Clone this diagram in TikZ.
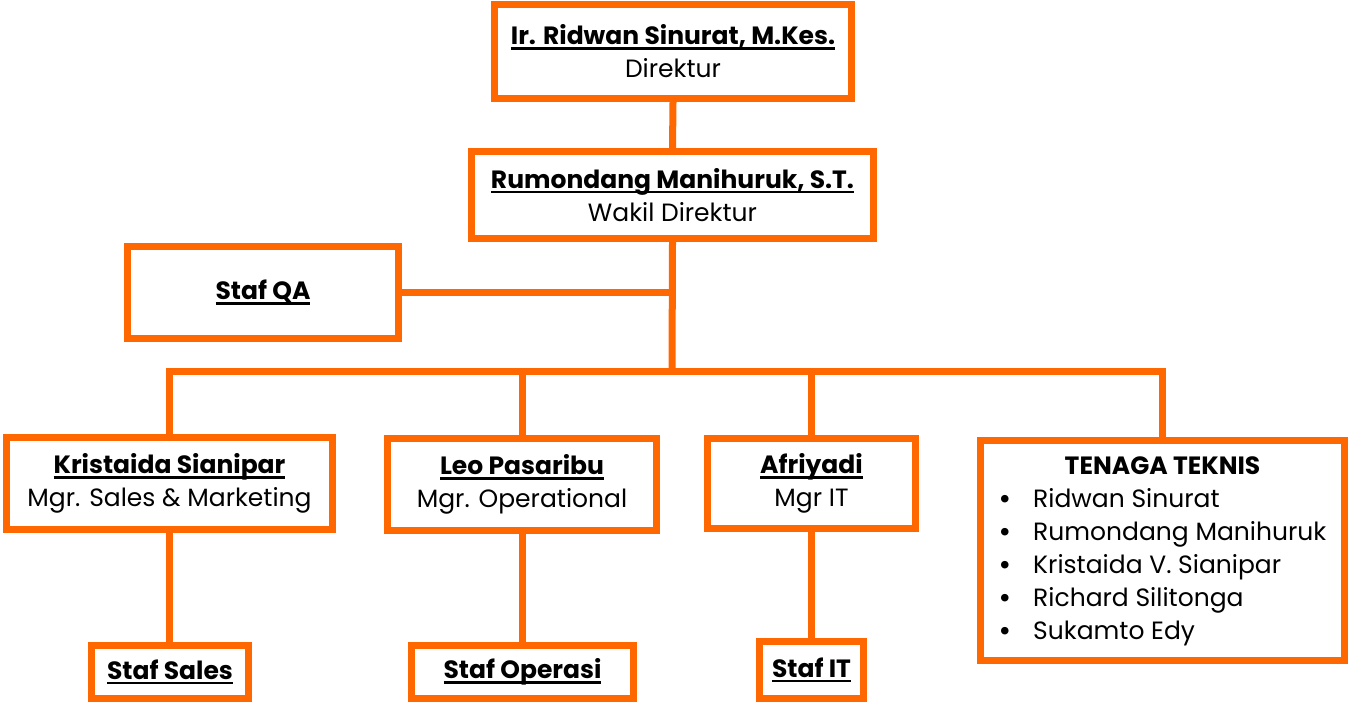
\documentclass[tikz,border=0pt]{standalone}
\usepackage{fontspec}
\setmainfont{Poppins}
\usetikzlibrary{positioning}
\definecolor{orgline}{RGB}{255,104,0}
\tikzset{
  box/.style={draw=orgline,line width=7pt,fill=white,align=center,inner sep=0pt,
    font=\fontsize{25}{33}\selectfont},
  conn/.style={draw=orgline,line width=7pt,line join=miter},
}
\newlength{\nmwd}
\newcommand*{\nm}[1]{\settowidth{\nmwd}{\textbf{#1}}\textbf{#1}\llap{\rule[-5pt]{\nmwd}{2.6pt}}}
\newcommand*{\bul}{\textbf{\textbullet}}

\begin{document}
\begin{tikzpicture}[x=1pt,y=-1pt]
\useasboundingbox (0,0) rectangle (1348,702);
% Top of the chart
\node[box,minimum width=357pt,minimum height=94pt] (dir) at (673,51.5)
  {\nm{Ir. Ridwan Sinurat, M.Kes.}\\Direktur};
\node[box,minimum width=402pt,minimum height=87pt] (wakil) at (672.5,195)
  {\nm{Rumondang Manihuruk, S.T.}\\Wakil Direktur};
\node[box,minimum width=271pt,minimum height=92pt] (qa) at (263,292.5) {\nm{Staf QA}};
\coordinate (split) at (672,371);

% Managers
\node[box,minimum width=326pt,minimum height=92pt] (kris) at (169.5,483.5)
  {\nm{Kristaida Sianipar}\\Mgr. Sales \& Marketing};
\node[box,minimum width=269pt,minimum height=92pt] (leo) at (522,484.5)
  {\nm{Leo Pasaribu}\\Mgr. Operational};
\node[box,minimum width=208pt,minimum height=90pt] (afri) at (811.5,483.5)
  {\nm{Afriyadi}\\Mgr IT};
\node[box,minimum width=364pt,minimum height=220pt] (tek) at (1162.5,550.5)
  {\begin{tabular}{@{}l@{\hspace{22pt}}l@{}}
   \multicolumn{2}{c}{\textbf{TENAGA TEKNIS}}\\
   \bul & Ridwan Sinurat\\
   \bul & Rumondang Manihuruk\\
   \bul & Kristaida V. Sianipar\\
   \bul & Richard Silitonga\\
   \bul & Sukamto Edy
   \end{tabular}};

% Staff
\node[box,minimum width=157pt,minimum height=53pt] (ssales) at (170,672) {\nm{Staf Sales}};
\node[box,minimum width=222pt,minimum height=53pt] (sops) at (522.5,672) {\nm{Staf Operasi}};
\node[box,minimum width=104pt,minimum height=57pt] (sit) at (811.5,670) {\nm{Staf IT}};

% Connectors
\draw[conn] (dir.south) -- (wakil.north);
\draw[conn] (wakil.south) -- (split);
\draw[conn] (qa.east) -- (qa.east -| split);
\draw[conn] (kris.north) |- (split);
\draw[conn] (leo.north) |- (split);
\draw[conn] (afri.north) |- (split);
\draw[conn] (tek.north) |- (split);
\draw[conn] (kris.south) -- (kris.south |- ssales.north);
\draw[conn] (leo.south) -- (leo.south |- sops.north);
\draw[conn] (afri.south) -- (afri.south |- sit.north);
\end{tikzpicture}
\end{document}
